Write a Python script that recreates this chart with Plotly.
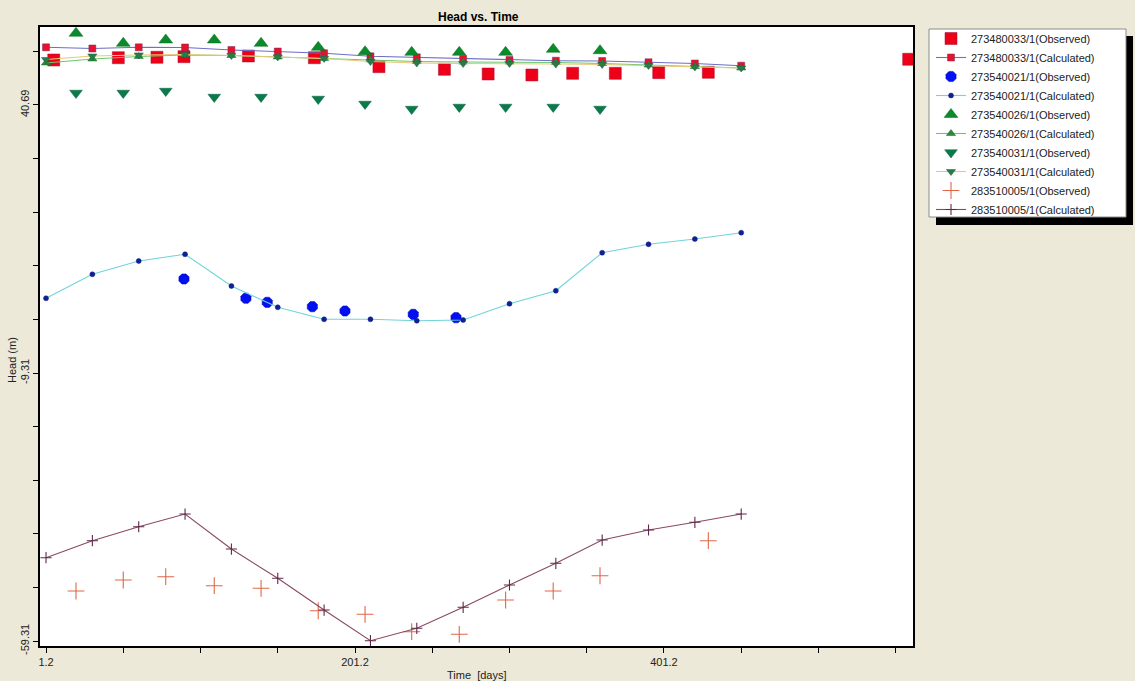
import plotly.graph_objects as go

# ---------------- data ----------------
calc_t = [1.2, 31.2, 61.2, 91.2, 121.2, 151.2, 181.2, 211.2, 241.2, 271.2,
          301.2, 331.2, 361.2, 391.2, 421.2, 451.2]
obs_t = [20.6, 51.2, 78.7, 110.1, 140.4, 177.4, 207.7, 237.9, 268.7, 298.7,
         329.5, 359.8]
obs_t_005 = [20.6, 51.2, 78.7, 110.1, 140.4, 177.4, 207.7, 237.9, 268.7, 298.7,
             329.5, 359.8, 429.9]

# 273480033/1
obs_t_033 = [6.2, 48.0, 73.0, 90.5, 132.2, 174.9, 216.7, 259.1, 287.4, 315.7,
             342.1, 369.7, 397.8, 429.9, 559.6]
obs_h_033 = [49.09, 49.51, 49.59, 49.70, 49.83, 49.51, 47.84, 47.35, 46.47, 46.29,
             46.60, 46.60, 46.72, 46.79, 49.22]
calc_h_033 = [51.45, 51.23, 51.45, 51.42, 50.95, 50.67, 50.34, 49.78, 49.59, 49.27,
              49.09, 48.95, 48.90, 48.66, 48.43, 48.02]

# 273540021/1
obs_t_021 = [90.5, 130.6, 144.4, 173.6, 194.7, 238.9, 266.6]
obs_h_021 = [8.23, 4.63, 3.88, 3.06, 2.26, 1.64, 1.01]
calc_h_021 = [4.63, 9.10, 11.59, 12.84, 6.92, 2.95, 0.71, 0.71, 0.45, 0.58,
              3.62, 6.04, 13.13, 14.70, 15.69, 16.87]

# 273540026/1
obs_h_026 = [54.07, 52.20, 52.82, 52.82, 52.20, 51.45, 50.63, 50.52, 50.52, 50.52,
             51.08, 50.82]
calc_h_026 = [48.53, 49.27, 49.74, 50.02, 49.92, 49.65, 49.37, 49.09, 48.81, 48.71,
              48.71, 48.62, 48.43, 48.15, 47.87, 47.59]

# 273540031/1
obs_h_031 = [42.93, 42.93, 43.30, 42.18, 42.18, 41.81, 40.88, 39.94, 40.32, 40.32,
             40.32, 39.94]
calc_h_031 = [49.18, 49.83, 50.02, 50.11, 49.92, 49.65, 49.37, 48.81, 48.53, 48.43,
              48.43, 48.34, 48.25, 48.06, 47.78, 47.59]

# 283510005/1
obs_h_005 = [-49.98, -47.93, -47.31, -48.99, -49.48, -53.66, -54.33, -57.57, -58.06,
             -51.66, -49.98, -47.13, -40.60]
calc_h_005 = [-43.77, -40.60, -37.99, -35.62, -42.15, -47.61, -53.53, -59.25, -56.94,
              -53.02, -48.86, -44.81, -40.47, -38.60, -37.16, -35.62]

x_tick_vals = [1.2 + 50 * i for i in range(12)]
x_tick_text = ["1.2", "", "", "", "201.2", "", "", "", "401.2", "", "", ""]
y_tick_vals = [-59.31 + 10 * i for i in range(12)]
y_tick_text = ["-59.31", "", "", "", "", "-9.31", "", "", "", "", "40.69", ""]

FONT = "Arial, Liberation Sans, sans-serif"

fig = go.Figure()


def obs(name, x, y, symbol, size, color, lcolor=None, lw=0.5):
    fig.add_trace(go.Scatter(
        x=x, y=y, mode="markers", name=name,
        marker=dict(symbol=symbol, size=size, color=color,
                    line=dict(color=lcolor or color, width=lw))))


def calc(name, x, y, lcolor, symbol, size, mcolor, mline=None, mlw=0.5):
    fig.add_trace(go.Scatter(
        x=x, y=y, mode="lines+markers", name=name,
        line=dict(color=lcolor, width=1.1),
        marker=dict(symbol=symbol, size=size, color=mcolor,
                    line=dict(color=mline or mcolor, width=mlw))))


obs("273480033/1(Observed)", obs_t_033, obs_h_033, "square", 12, "#EE0018", "#A01030")
calc("273480033/1(Calculated)", calc_t, calc_h_033, "#6E6EC4", "square", 7, "#E8102A", "#7A3060")
obs("273540021/1(Observed)", obs_t_021, obs_h_021, "octagon", 11, "#0010F0", "#0000C0")
calc("273540021/1(Calculated)", calc_t, calc_h_021, "#70D4DA", "circle", 5, "#102090")
obs("273540026/1(Observed)", obs_t, obs_h_026, "triangle-up", 12, "#0A8A2A", "#0A7020")
calc("273540026/1(Calculated)", calc_t, calc_h_026, "#6CC86C", "triangle-up", 8, "#2A8A3A", "#1A6A2A")
obs("273540031/1(Observed)", obs_t, obs_h_031, "triangle-down", 11, "#0A7A4A", "#0A6040")
calc("273540031/1(Calculated)", calc_t, calc_h_031, "#E8C878", "triangle-down", 8, "#2A7A4A", "#1A6040")
obs("283510005/1(Observed)", obs_t_005, obs_h_005, "cross-thin", 12, "#E06848", "#E06848", 1.1)
calc("283510005/1(Calculated)", calc_t, calc_h_005, "#8A4A5E", "cross-thin", 8, "#602848", "#602848", 1.1)

L, R, T, B = 40, 222, 27, 35
W, H = 1135, 681
pw, ph = W - L - R, H - T - B


def px(xp):
    return (xp - L) / pw


def py(yp):
    return (H - B - yp) / ph


shapes = [
    # legend shadow and box
    dict(type="rect", xref="paper", yref="paper", x0=px(936), x1=px(1133),
         y0=py(225), y1=py(36), fillcolor="black", line=dict(width=0), layer="below"),
    dict(type="rect", xref="paper", yref="paper", x0=px(929), x1=px(1126),
         y0=py(217), y1=py(29), fillcolor="white", line=dict(color="#8C8C8C", width=1),
         layer="below"),
]

annotations = [
    dict(text="<b>Head vs. Time</b>", xref="paper", yref="paper", x=px(478), y=py(17),
         xanchor="center", yanchor="middle",
         showarrow=False, font=dict(family=FONT, size=12, color="black")),
    dict(text="Time  [days]", xref="paper", yref="paper", x=px(477), y=py(675),
         xanchor="center", yanchor="middle",
         showarrow=False, font=dict(family=FONT, size=11, color="#222")),
    dict(text="Head (m)", xref="paper", yref="paper", x=px(12), y=py(360),
         xanchor="center", yanchor="middle",
         showarrow=False, textangle=-90, font=dict(family=FONT, size=11, color="#222")),
]

fig.update_layout(
    width=W, height=H,
    margin=dict(l=L, r=R, t=T, b=B, pad=0),
    paper_bgcolor="#ECE9D8",
    plot_bgcolor="white",
    showlegend=True,
    legend=dict(x=px(931), y=py(24), xanchor="left", yanchor="top",
                bgcolor="rgba(0,0,0,0)", borderwidth=0,
                font=dict(family=FONT, size=11, color="#222"),
                tracegroupgap=0, itemwidth=30),
    shapes=shapes,
    annotations=annotations,
    xaxis=dict(range=[-2.7, 562.4], tickvals=x_tick_vals, ticktext=x_tick_text,
               ticks="outside", ticklen=5, tickcolor="black", tickwidth=1,
               showline=True, linecolor="black", linewidth=2, mirror=True,
               showgrid=False, zeroline=False,
               tickfont=dict(family=FONT, size=11, color="#222")),
    yaxis=dict(range=[-60.24, 55.24], tickvals=y_tick_vals, ticktext=y_tick_text,
               ticks="outside", ticklen=5, tickcolor="black", tickwidth=1,
               tickangle=-90,
               showline=True, linecolor="black", linewidth=2, mirror=True,
               showgrid=False, zeroline=False,
               tickfont=dict(family=FONT, size=11, color="#222")),
)

fig.write_html(
    "out.html",
    config={"displayModeBar": False},
    post_script="document.body.style.margin='0';document.body.style.overflow='hidden';",
)
